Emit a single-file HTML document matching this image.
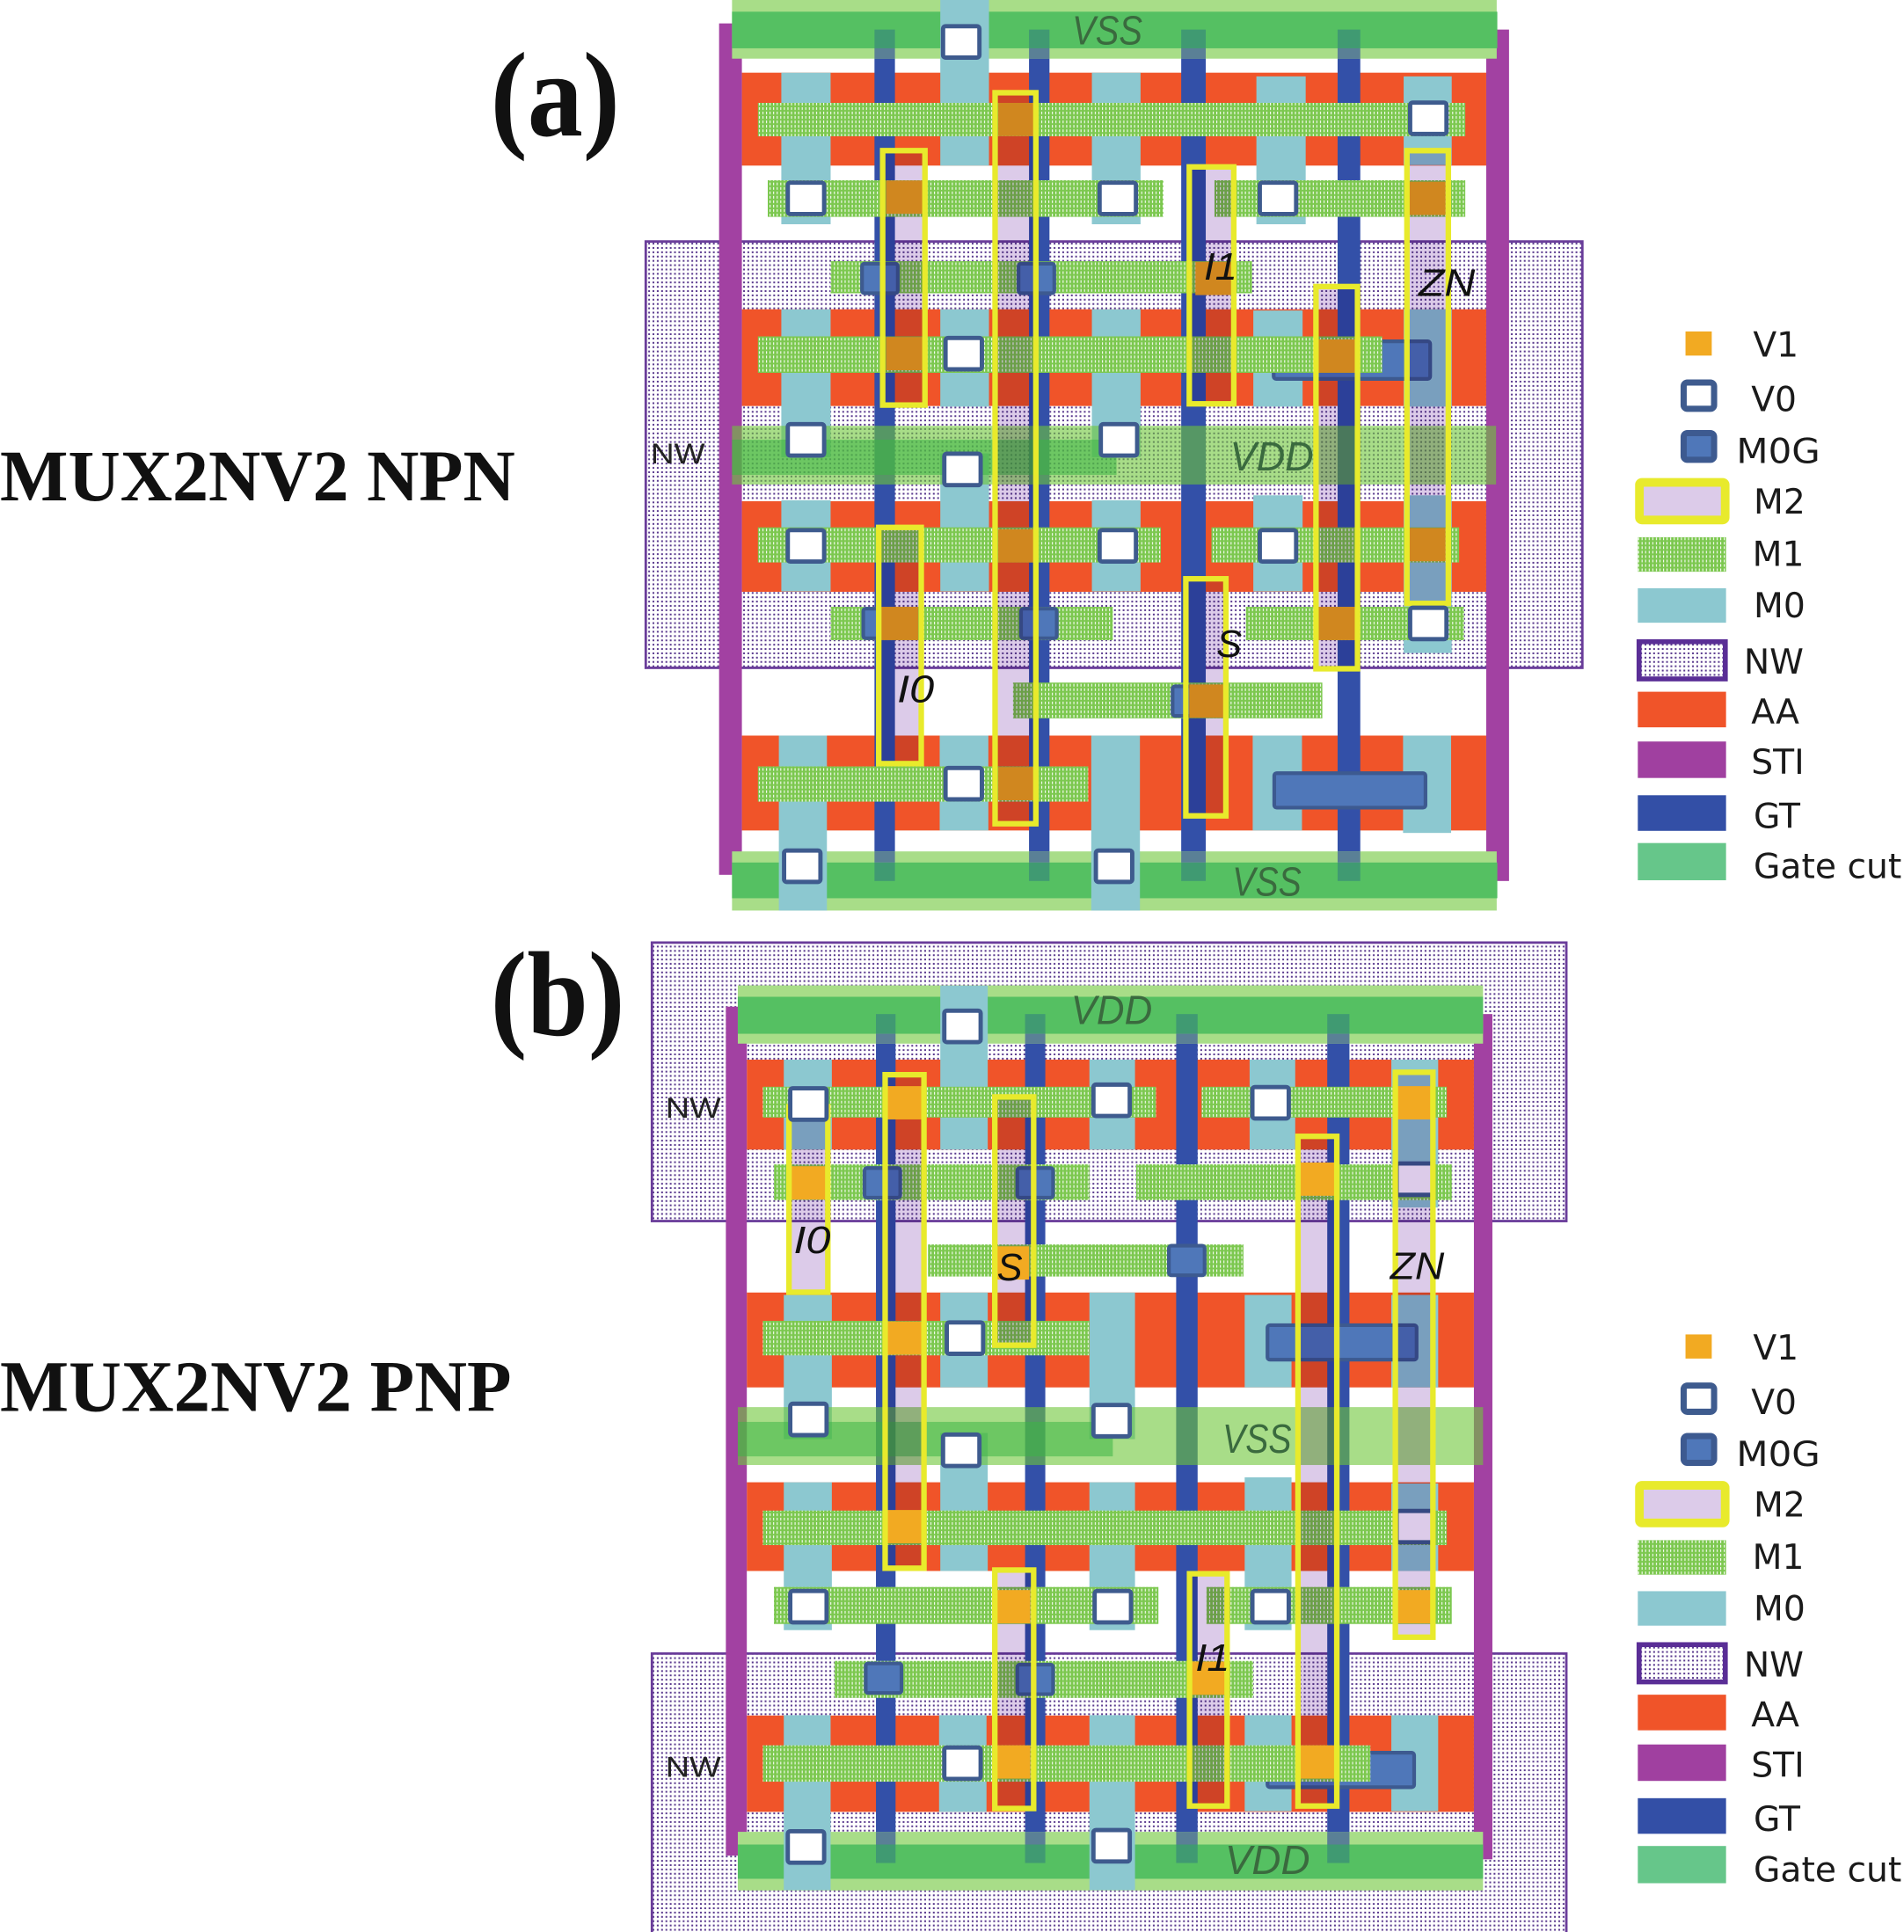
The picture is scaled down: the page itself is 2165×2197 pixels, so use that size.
<!DOCTYPE html>
<html><head><meta charset="utf-8">
<style>
html,body{margin:0;padding:0;background:#fff;}
svg{display:block;}
.aa{fill:#f05429}
.m0{fill:#8cc8d0}
.gt{fill:#3350a8}
.sti{fill:#a241a2}
.m1{fill:url(#m1)}
.v0{fill:#fff;stroke:#3e5b8e;stroke-width:3.5}
.v1{fill:#f2aa22}
.mg{fill:#4f77b9;stroke:#3d5a90;stroke-width:3}
.m2f{fill:#dccbe9;mix-blend-mode:multiply}
.m2o{fill:none;stroke:#e8ea2c;stroke-width:4.5}
.rl{fill:#a8dd88}
.rd{fill:#55c062}
.gd{fill:#409a72}
.gl{fill:#5a8096}
.bl{fill:rgb(110,198,56);fill-opacity:0.6}
.bd{fill:rgb(60,180,70);fill-opacity:0.55}
.lab{font-family:"Liberation Sans",sans-serif;font-style:italic;font-size:31px;fill:#111}
.pw{font-family:"Liberation Sans",sans-serif;font-style:italic;font-size:33px;fill:#3a6a3e}
.nwt{font-family:"Liberation Sans",sans-serif;font-size:23px;fill:#222}
.lg{font-family:"DejaVu Sans",sans-serif;font-size:28px;fill:#1a1a1a}
.ttl{font-family:"Liberation Serif",serif;font-weight:bold;fill:#111}
</style></head>
<body>
<svg xmlns="http://www.w3.org/2000/svg" width="2165" height="2197" viewBox="0 0 1545 1568" preserveAspectRatio="none">
<defs>
<pattern id="m1" width="2.9" height="3.6" patternUnits="userSpaceOnUse"><rect width="2.9" height="3.6" fill="#7cc84f"/><rect x="1" y="0.6" width="0.75" height="2.2" fill="#fff"/></pattern>
<pattern id="nw" width="3.5" height="3.5" patternUnits="userSpaceOnUse"><rect width="3.5" height="3.5" fill="#fff"/><rect x="1" y="1" width="1.45" height="1.45" fill="#5b3b8f"/></pattern>
</defs>
<rect width="1545" height="1568" fill="#fff"/>

<!-- ================= PANEL A ================= -->
<rect x="524" y="196" width="760" height="346" fill="url(#nw)" stroke="#6a3d9a" stroke-width="2"/>
<g class="aa">
<rect x="602" y="59" width="604" height="75.4"/>
<rect x="602" y="251" width="604" height="78.5"/>
<rect x="602" y="406.8" width="604" height="73.5"/>
<rect x="602" y="597" width="604" height="77"/>
</g>
<rect class="sti" x="583.5" y="19" width="18.5" height="691"/>
<rect class="sti" x="1206" y="24" width="18.5" height="691"/>
<g class="gt">
<rect x="709.6" y="24" width="16.6" height="691"/>
<rect x="835" y="24" width="16.6" height="691"/>
<rect x="958.5" y="24" width="19.9" height="691"/>
<rect x="1085.4" y="24" width="18.4" height="691"/>
</g>
<!-- rails -->
<rect class="rl" x="594" y="0" width="620.5" height="47.6"/>
<rect class="rd" x="594" y="9.5" width="621" height="29.7"/>
<rect class="rl" x="594" y="691" width="620.5" height="48"/>
<rect class="rd" x="594" y="700" width="621" height="29"/>
<g class="gd">
<rect x="709.6" y="24" width="16.6" height="15.2"/><rect x="835" y="24" width="16.6" height="15.2"/><rect x="958.5" y="24" width="19.9" height="15.2"/><rect x="1085.4" y="24" width="18.4" height="15.2"/>
<rect x="709.6" y="700" width="16.6" height="15"/><rect x="835" y="700" width="16.6" height="15"/><rect x="958.5" y="700" width="19.9" height="15"/><rect x="1085.4" y="700" width="18.4" height="15"/>
</g>
<g class="gl">
<rect x="709.6" y="39.2" width="16.6" height="8.4"/><rect x="835" y="39.2" width="16.6" height="8.4"/><rect x="958.5" y="39.2" width="19.9" height="8.4"/><rect x="1085.4" y="39.2" width="18.4" height="8.4"/>
<rect x="709.6" y="691" width="16.6" height="9"/><rect x="835" y="691" width="16.6" height="9"/><rect x="958.5" y="691" width="19.9" height="9"/><rect x="1085.4" y="691" width="18.4" height="9"/>
</g>
<!-- M0 -->
<g class="m0">
<rect x="634" y="59" width="40" height="123"/>
<rect x="634" y="251" width="40" height="120"/>
<rect x="634" y="406" width="40" height="74"/>
<rect x="632" y="597" width="39" height="142"/>
<rect x="763" y="0" width="39.5" height="134.4"/>
<rect x="763" y="251" width="39.5" height="79"/>
<rect x="763" y="368" width="39.5" height="112"/>
<rect x="762.5" y="597" width="39.5" height="77"/>
<rect x="886" y="59" width="39.5" height="123"/>
<rect x="886" y="251" width="39.5" height="120"/>
<rect x="886" y="406" width="39.5" height="74"/>
<rect x="885.5" y="597" width="39.5" height="142"/>
<rect x="1019.5" y="62" width="40" height="120"/>
<rect x="1017" y="252" width="40" height="78"/>
<rect x="1017" y="402" width="40" height="78"/>
<rect x="1016.5" y="597" width="40" height="77"/>
<rect x="1139" y="62" width="39" height="72"/>
<rect x="1139" y="251" width="39" height="79"/>
<rect x="1139" y="402" width="39" height="128"/>
<rect x="1138.5" y="597" width="39" height="79"/>
</g>
<!-- M0G bars -->
<rect class="mg" x="1033.5" y="277" width="127" height="30.5" rx="2"/>
<rect class="mg" x="1034" y="627.5" width="122.7" height="28" rx="2"/>
<!-- M1 -->
<g class="m1">
<rect x="615" y="83.5" width="574" height="27.1"/>
<rect x="623" y="146.3" width="321" height="29.7"/>
<rect x="985.5" y="146.3" width="203.5" height="29.7"/>
<rect x="674" y="212" width="342" height="26"/>
<rect x="615" y="273" width="506.6" height="29.6"/>
<rect x="615" y="428" width="327" height="28.5"/>
<rect x="983" y="428" width="201" height="28.5"/>
<rect x="674" y="492.5" width="229" height="27.1"/>
<rect x="1011" y="492.5" width="177" height="27.1"/>
<rect x="822" y="554" width="251" height="29"/>
<rect x="615" y="622" width="268" height="28.6"/>
</g>
<!-- VDD band -->
<rect class="bl" x="594" y="345.6" width="620" height="47.6"/>
<rect class="bd" x="594" y="356.8" width="312" height="28.6"/>
<!-- V0 -->
<g class="v0">
<rect x="765.25" y="21.25" width="29.5" height="25.5" rx="2"/>
<rect x="1144.25" y="83.25" width="29.5" height="25.5" rx="2"/>
<rect x="639.25" y="148.25" width="29.5" height="25.5" rx="2"/>
<rect x="892.25" y="148.25" width="29.5" height="25.5" rx="2"/>
<rect x="1022.25" y="148.25" width="29.5" height="25.5" rx="2"/>
<rect x="767.25" y="274.25" width="29.5" height="25.5" rx="2"/>
<rect x="639.25" y="344.25" width="29.5" height="25.5" rx="2"/>
<rect x="893.25" y="344.25" width="29.5" height="25.5" rx="2"/>
<rect x="766.25" y="368.25" width="29.5" height="25.5" rx="2"/>
<rect x="639.25" y="430.25" width="29.5" height="25.5" rx="2"/>
<rect x="892.25" y="430.25" width="29.5" height="25.5" rx="2"/>
<rect x="1022.25" y="430.25" width="29.5" height="25.5" rx="2"/>
<rect x="767.25" y="623.25" width="29.5" height="25.5" rx="2"/>
<rect x="636.25" y="690.25" width="29.5" height="25.5" rx="2"/>
<rect x="889.25" y="690.25" width="29.5" height="25.5" rx="2"/>
</g>
<!-- M0G squares -->
<g class="mg">
<rect x="699.5" y="214" width="29" height="24" rx="2"/>
<rect x="826.5" y="214" width="29" height="24" rx="2"/>
<rect x="700.5" y="494" width="29" height="24" rx="2"/>
<rect x="828.5" y="494" width="29" height="24" rx="2"/>
<rect x="951.5" y="557" width="29" height="24" rx="2"/>
</g>
<!-- V1 (under M2 fill) -->
<g class="v1">
<rect x="810" y="83.5" width="30" height="27"/>
<rect x="719" y="146.5" width="30" height="27"/>
<rect x="1143" y="147.5" width="30" height="27"/>
<rect x="970" y="212.5" width="30" height="27"/>
<rect x="719" y="273.5" width="30" height="27"/>
<rect x="1070" y="275.5" width="30" height="27"/>
<rect x="810" y="429.5" width="30" height="27"/>
<rect x="1143" y="428.5" width="30" height="27"/>
<rect x="715" y="492.5" width="30" height="27"/>
<rect x="1070" y="492.5" width="30" height="27"/>
<rect x="965" y="555.5" width="30" height="27"/>
<rect x="810" y="622.5" width="30" height="27"/>
</g>
<!-- M2 fills -->
<g class="m2f">
<rect x="716.25" y="122.25" width="34.3" height="206.5"/>
<rect x="807.45" y="75.25" width="33.1" height="593.3"/>
<rect x="965.05" y="135.45" width="36.1" height="192.3"/>
<rect x="1141.65" y="122.25" width="33.6" height="367.5"/>
<rect x="1067.85" y="232.55" width="33.7" height="310.2"/>
<rect x="713.05" y="428.05" width="34.5" height="191.7"/>
<rect x="962.25" y="469.75" width="32.5" height="192.4"/>
</g>
<g class="m2o">
<rect x="716.25" y="122.25" width="34.3" height="206.5"/>
<rect x="807.45" y="75.25" width="33.1" height="593.3"/>
<rect x="965.05" y="135.45" width="36.1" height="192.3"/>
<rect x="1141.65" y="122.25" width="33.6" height="367.5"/>
<rect x="1067.85" y="232.55" width="33.7" height="310.2"/>
<rect x="713.05" y="428.05" width="34.5" height="191.7"/>
<rect x="962.25" y="469.75" width="32.5" height="192.4"/>
</g>
<rect class="v0" x="1144.25" y="493.25" width="29.5" height="25.5" rx="2"/>
<!-- labels A -->
<text class="pw" x="870" y="36" textLength="57" lengthAdjust="spacingAndGlyphs">VSS</text>
<text class="pw" x="998" y="382" textLength="68" lengthAdjust="spacingAndGlyphs">VDD</text>
<text class="pw" x="1000" y="727" textLength="56" lengthAdjust="spacingAndGlyphs">VSS</text>
<text class="lab" x="977" y="227" textLength="27" lengthAdjust="spacingAndGlyphs">I1</text>
<text class="lab" x="1151" y="240" textLength="46" lengthAdjust="spacingAndGlyphs">ZN</text>
<text class="lab" x="728" y="570" textLength="30" lengthAdjust="spacingAndGlyphs">I0</text>
<text class="lab" x="987" y="533">S</text>
<text class="nwt" x="528" y="376" textLength="44" lengthAdjust="spacingAndGlyphs">NW</text>

<!-- ================= PANEL B ================= -->
<rect x="529" y="765" width="742" height="226" fill="url(#nw)" stroke="#6a3d9a" stroke-width="2"/>
<rect x="529" y="1342" width="742" height="240" fill="url(#nw)" stroke="#6a3d9a" stroke-width="2"/>
<g class="aa">
<rect x="606" y="860" width="590" height="73"/>
<rect x="606" y="1049" width="590" height="77"/>
<rect x="606" y="1203" width="590" height="72"/>
<rect x="606" y="1392.3" width="590" height="78.2"/>
</g>
<rect class="sti" x="589" y="817" width="17" height="689"/>
<rect class="sti" x="1196" y="823" width="15" height="686"/>
<g class="gt">
<rect x="710.8" y="823" width="15.9" height="689"/>
<rect x="831.8" y="823" width="16.4" height="689"/>
<rect x="954.4" y="823" width="17.4" height="689"/>
<rect x="1077" y="823" width="18" height="689"/>
</g>
<rect class="rl" x="598.7" y="799.7" width="604.7" height="47.3"/>
<rect class="rd" x="598.7" y="809" width="604.7" height="30"/>
<rect class="rl" x="598.7" y="1486.7" width="604.7" height="47.6"/>
<rect class="rd" x="598.7" y="1497" width="604.7" height="27.8"/>
<g class="gd">
<rect x="710.8" y="823" width="15.9" height="16"/><rect x="831.8" y="823" width="16.4" height="16"/><rect x="954.4" y="823" width="17.4" height="16"/><rect x="1077" y="823" width="18" height="16"/>
<rect x="710.8" y="1497" width="15.9" height="15"/><rect x="831.8" y="1497" width="16.4" height="15"/><rect x="954.4" y="1497" width="17.4" height="15"/><rect x="1077" y="1497" width="18" height="15"/>
</g>
<g class="gl">
<rect x="710.8" y="839" width="15.9" height="8"/><rect x="831.8" y="839" width="16.4" height="8"/><rect x="954.4" y="839" width="17.4" height="8"/><rect x="1077" y="839" width="18" height="8"/>
<rect x="710.8" y="1486.7" width="15.9" height="10.3"/><rect x="831.8" y="1486.7" width="16.4" height="10.3"/><rect x="954.4" y="1486.7" width="17.4" height="10.3"/><rect x="1077" y="1486.7" width="18" height="10.3"/>
</g>
<g class="m0">
<rect x="636" y="860" width="39" height="73"/>
<rect x="636" y="1051" width="39" height="117"/>
<rect x="636" y="1203" width="39" height="120"/>
<rect x="636" y="1392" width="38" height="142"/>
<rect x="763" y="800" width="38.5" height="133"/>
<rect x="763" y="1049" width="38.5" height="77"/>
<rect x="763" y="1163" width="38.5" height="112"/>
<rect x="762" y="1392" width="38.5" height="78.5"/>
<rect x="884" y="860" width="37" height="73"/>
<rect x="884" y="1049" width="37" height="119"/>
<rect x="884" y="1203" width="37" height="120"/>
<rect x="884" y="1392" width="37" height="142"/>
<rect x="1014" y="860" width="37" height="73"/>
<rect x="1010" y="1051" width="38" height="75"/>
<rect x="1010" y="1199" width="38" height="124"/>
<rect x="1010" y="1392" width="38" height="78"/>
<rect x="1129" y="860" width="38" height="120"/>
<rect x="1129" y="1051" width="38" height="75"/>
<rect x="1129" y="1204" width="38" height="71"/>
<rect x="1129" y="1392" width="38" height="78"/>
</g>
<rect class="mg" x="1028.5" y="1075.5" width="121" height="28" rx="2"/>
<rect class="mg" x="1028.5" y="1422.5" width="119" height="28" rx="2"/>
<g class="m1">
<rect x="619" y="882" width="319" height="25"/>
<rect x="975" y="882" width="199" height="25"/>
<rect x="628" y="945" width="256" height="29"/>
<rect x="922" y="945" width="256" height="29"/>
<rect x="753" y="1010" width="256" height="26"/>
<rect x="619" y="1072" width="265" height="28"/>
<rect x="619" y="1226" width="555" height="28"/>
<rect x="628" y="1288" width="312" height="30"/>
<rect x="979" y="1288" width="199" height="30"/>
<rect x="677" y="1348" width="340" height="30"/>
<rect x="619" y="1416.5" width="493" height="29.5"/>
</g>
<rect class="bl" x="598.7" y="1142" width="604.7" height="47"/>
<rect class="bd" x="598.7" y="1154" width="304.3" height="28"/>
<g class="v0">
<rect x="766.25" y="820.25" width="29.5" height="25.5" rx="2"/>
<rect x="887.25" y="880.25" width="29.5" height="25.5" rx="2"/>
<rect x="1016.25" y="882.25" width="29.5" height="25.5" rx="2"/>
<rect x="768.25" y="1073.25" width="29.5" height="25.5" rx="2"/>
<rect x="641.25" y="1139.25" width="29.5" height="25.5" rx="2"/>
<rect x="887.25" y="1140.25" width="29.5" height="25.5" rx="2"/>
<rect x="765.25" y="1164.25" width="29.5" height="25.5" rx="2"/>
<rect x="641.25" y="1291.25" width="29.5" height="25.5" rx="2"/>
<rect x="888.25" y="1291.25" width="29.5" height="25.5" rx="2"/>
<rect x="1016.25" y="1291.25" width="29.5" height="25.5" rx="2"/>
<rect x="766.25" y="1418.25" width="29.5" height="25.5" rx="2"/>
<rect x="639.25" y="1486.25" width="29.5" height="25.5" rx="2"/>
<rect x="887.25" y="1485.25" width="29.5" height="25.5" rx="2"/>
<rect x="1133.25" y="944.25" width="29.5" height="25.5" rx="2"/>
<rect x="1133.25" y="1226.25" width="29.5" height="25.5" rx="2"/>
</g>
<g class="mg">
<rect x="701.5" y="948" width="29" height="24" rx="2"/>
<rect x="825.5" y="948" width="29" height="24" rx="2"/>
<rect x="948.5" y="1011" width="29" height="24" rx="2"/>
<rect x="702.5" y="1350" width="29" height="24" rx="2"/>
<rect x="825.5" y="1351" width="29" height="24" rx="2"/>
</g>
<g class="m2f">
<rect x="640.25" y="898.25" width="31.5" height="150.5"/>
<rect x="718.25" y="872.25" width="31.5" height="400.5"/>
<rect x="807.25" y="890.25" width="31.5" height="201.5"/>
<rect x="1053.25" y="922.25" width="31.5" height="543.5"/>
<rect x="1132.25" y="870.25" width="30.5" height="458.5"/>
<rect x="807.25" y="1274.25" width="31.5" height="193.5"/>
<rect x="965.25" y="1277.25" width="30.5" height="188.5"/>
</g>
<g class="v1">
<rect x="719" y="881.5" width="30" height="27"/>
<rect x="1133" y="881.5" width="30" height="27"/>
<rect x="640" y="946.5" width="30" height="27"/>
<rect x="1054" y="943.5" width="30" height="27"/>
<rect x="805" y="1011.5" width="30" height="27"/>
<rect x="719" y="1072.5" width="30" height="27"/>
<rect x="719" y="1225.5" width="30" height="27"/>
<rect x="806" y="1290.5" width="30" height="27"/>
<rect x="1133" y="1290.5" width="30" height="27"/>
<rect x="967" y="1348.5" width="30" height="27"/>
<rect x="806" y="1416.5" width="30" height="27"/>
<rect x="1054" y="1416.5" width="30" height="27"/>
</g>
<g class="m2o">
<rect x="640.25" y="898.25" width="31.5" height="150.5"/>
<rect x="718.25" y="872.25" width="31.5" height="400.5"/>
<rect x="807.25" y="890.25" width="31.5" height="201.5"/>
<rect x="1053.25" y="922.25" width="31.5" height="543.5"/>
<rect x="1132.25" y="870.25" width="30.5" height="458.5"/>
<rect x="807.25" y="1274.25" width="31.5" height="193.5"/>
<rect x="965.25" y="1277.25" width="30.5" height="188.5"/>
</g>
<rect class="v0" x="641.25" y="883.25" width="29.5" height="25.5" rx="2"/>
<text class="pw" x="869" y="831" textLength="66" lengthAdjust="spacingAndGlyphs">VDD</text>
<text class="pw" x="992" y="1179" textLength="56" lengthAdjust="spacingAndGlyphs">VSS</text>
<text class="pw" x="994" y="1521" textLength="69" lengthAdjust="spacingAndGlyphs">VDD</text>
<text class="lab" x="644" y="1017" textLength="30" lengthAdjust="spacingAndGlyphs">I0</text>
<text class="lab" x="809" y="1039">S</text>
<text class="lab" x="1128" y="1038" textLength="44" lengthAdjust="spacingAndGlyphs">ZN</text>
<text class="lab" x="970" y="1356" textLength="28" lengthAdjust="spacingAndGlyphs">I1</text>
<text class="nwt" x="540" y="907" textLength="45" lengthAdjust="spacingAndGlyphs">NW</text>
<text class="nwt" x="540" y="1442" textLength="45" lengthAdjust="spacingAndGlyphs">NW</text>

<!-- ================= TITLES ================= -->
<text class="ttl" x="398" y="110" font-size="98" textLength="105" lengthAdjust="spacingAndGlyphs">(a)</text>
<text class="ttl" x="398" y="840" font-size="98" textLength="109" lengthAdjust="spacingAndGlyphs">(b)</text>
<text class="ttl" x="0" y="406" font-size="59" textLength="418" lengthAdjust="spacingAndGlyphs">MUX2NV2 NPN</text>
<text class="ttl" x="0" y="1145" font-size="59" textLength="415" lengthAdjust="spacingAndGlyphs">MUX2NV2 PNP</text>

<!-- ================= LEGENDS ================= -->
<g>
<rect x="1367.7" y="269" width="21.3" height="19.6" fill="#f2aa22"/>
<text class="lg" x="1422.5" y="289.3">V1</text>
<rect x="1366.2" y="310.5" width="24.7" height="21.3" rx="3" fill="#fff" stroke="#3e5b8e" stroke-width="5"/>
<text class="lg" x="1421" y="333.8">V0</text>
<rect x="1366.2" y="351.5" width="24.7" height="21.7" rx="3" fill="#4f77b9" stroke="#3d5a90" stroke-width="5"/>
<text class="lg" x="1409" y="375.7" textLength="68" lengthAdjust="spacingAndGlyphs">M0G</text>
<rect x="1330.3" y="391.5" width="69.6" height="30.5" rx="2" fill="#dccbe9" stroke="#e8ea2c" stroke-width="7"/>
<text class="lg" x="1423" y="416.8">M2</text>
<rect x="1329" y="436" width="71.6" height="28" fill="url(#m1)"/>
<text class="lg" x="1422" y="459.4">M1</text>
<rect x="1329" y="477.4" width="71.6" height="28" fill="#8cc8d0"/>
<text class="lg" x="1423" y="501">M0</text>
<rect x="1330" y="520.8" width="70" height="30.2" fill="url(#nw)" stroke="#5a2e96" stroke-width="4"/>
<text class="lg" x="1415" y="546.8">NW</text>
<rect x="1329" y="561.4" width="71.6" height="28.9" fill="#f05429"/>
<text class="lg" x="1421" y="587.2">AA</text>
<rect x="1329" y="601.8" width="71.6" height="29.6" fill="#a040a0"/>
<text class="lg" x="1421" y="628">STI</text>
<rect x="1329" y="645.4" width="71.6" height="28.9" fill="#334fa6"/>
<text class="lg" x="1423" y="671.8">GT</text>
<rect x="1329" y="684.2" width="71.6" height="30.2" fill="#66c68a"/>
<text class="lg" x="1423" y="712.8">Gate cut</text>
</g>
<g transform="translate(0,814)">
<rect x="1367.7" y="269" width="21.3" height="19.6" fill="#f2aa22"/>
<text class="lg" x="1422.5" y="289.3">V1</text>
<rect x="1366.2" y="310.5" width="24.7" height="21.3" rx="3" fill="#fff" stroke="#3e5b8e" stroke-width="5"/>
<text class="lg" x="1421" y="333.8">V0</text>
<rect x="1366.2" y="351.5" width="24.7" height="21.7" rx="3" fill="#4f77b9" stroke="#3d5a90" stroke-width="5"/>
<text class="lg" x="1409" y="375.7" textLength="68" lengthAdjust="spacingAndGlyphs">M0G</text>
<rect x="1330.3" y="391.5" width="69.6" height="30.5" rx="2" fill="#dccbe9" stroke="#e8ea2c" stroke-width="7"/>
<text class="lg" x="1423" y="416.8">M2</text>
<rect x="1329" y="436" width="71.6" height="28" fill="url(#m1)"/>
<text class="lg" x="1422" y="459.4">M1</text>
<rect x="1329" y="477.4" width="71.6" height="28" fill="#8cc8d0"/>
<text class="lg" x="1423" y="501">M0</text>
<rect x="1330" y="520.8" width="70" height="30.2" fill="url(#nw)" stroke="#5a2e96" stroke-width="4"/>
<text class="lg" x="1415" y="546.8">NW</text>
<rect x="1329" y="561.4" width="71.6" height="28.9" fill="#f05429"/>
<text class="lg" x="1421" y="587.2">AA</text>
<rect x="1329" y="601.8" width="71.6" height="29.6" fill="#a040a0"/>
<text class="lg" x="1421" y="628">STI</text>
<rect x="1329" y="645.4" width="71.6" height="28.9" fill="#334fa6"/>
<text class="lg" x="1423" y="671.8">GT</text>
<rect x="1329" y="684.2" width="71.6" height="30.2" fill="#66c68a"/>
<text class="lg" x="1423" y="712.8">Gate cut</text>
</g>
</svg>
</body></html>
